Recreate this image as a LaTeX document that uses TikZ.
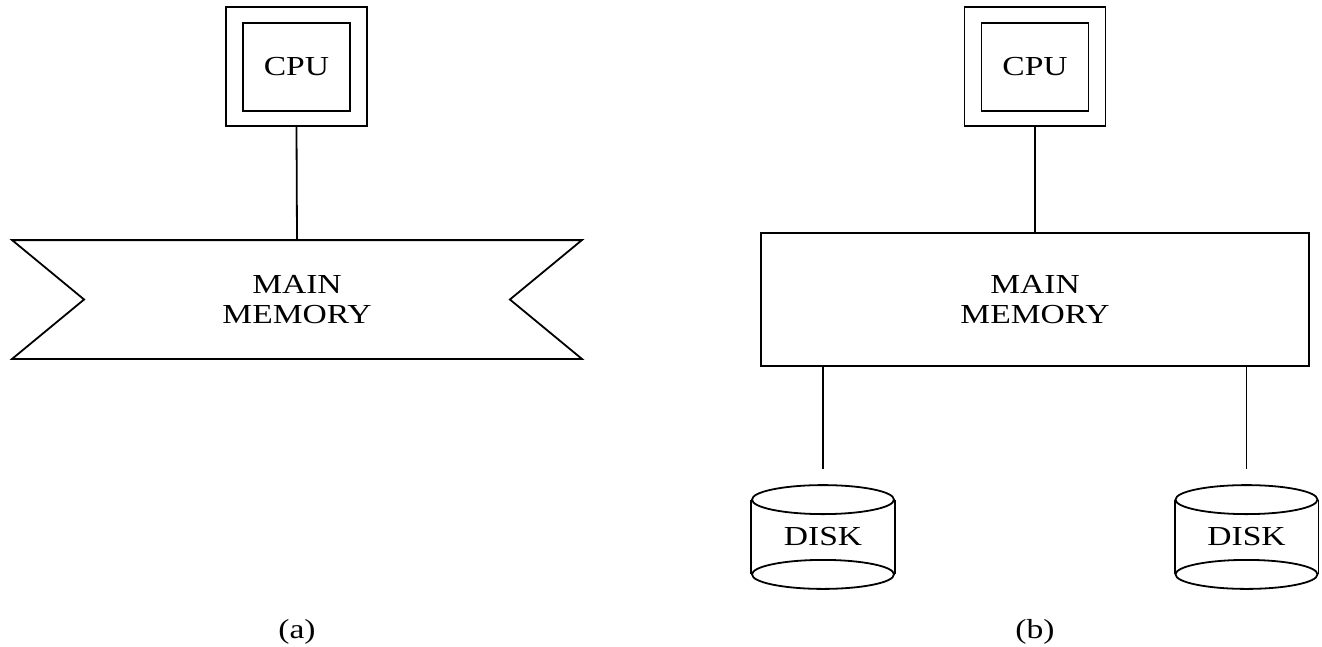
\documentclass[tikz,border=0pt]{standalone}
\usepackage{fontspec}
\setmainfont{Liberation Serif}[FakeStretch=1.22]
\usetikzlibrary{calc}

\begin{document}
\begin{tikzpicture}[x=1pt, y=-1pt, line width=1.8pt,
  lbl/.style={font=\fontsize{27.5}{30}\selectfont, align=center, inner sep=0pt},
  box/.style={draw, line width=1.8pt, inner sep=0pt},
  cpuouter/.style={box, minimum width=141pt, minimum height=119pt},
  cpuinner/.style={box, lbl, minimum width=107pt, minimum height=88pt},
  diskbody/.style={lbl, minimum width=142pt, minimum height=102pt},
  wire/.style={line width=1.8pt}]
\useasboundingbox (0,0) rectangle (1322,646);

% ---------------- (a): CPU on a main memory banner ----------------
\node[cpuouter] (cpuAo) at (296.5,66.5) {};
\node[cpuinner] (cpuAi) at (296.5,67) {CPU};
\node[lbl, minimum width=568pt, minimum height=117pt] (memA) at (297,299.5) {MAIN\\MEMORY};
\draw (memA.north west) -- (memA.north east) -- ($(memA.east)+(-72,0)$)
      -- (memA.south east) -- (memA.south west) -- ($(memA.west)+(72,0)$) -- cycle;
\draw[wire] (cpuAo.south) -- (memA.north);
\node[lbl, anchor=base] (capA) at (297,638) {(a)};

% ---------------- (b): CPU, main memory and two disks ----------------
\node[cpuouter] (cpuBo) at (1035,66.5) {};
\node[cpuinner] (cpuBi) at (1035,67) {CPU};
\node[box, lbl, minimum width=548pt, minimum height=133pt] (memB) at (1035,299.5) {MAIN\\MEMORY};
\draw[wire] (cpuBo.south) -- (memB.north);

\node[diskbody] (diskL) at (823,537) {DISK};
\node[diskbody] (diskR) at (1246.5,537) {DISK};
\foreach \d in {diskL,diskR}{
  \draw ($(\d.north)+(0,14.5)$) ellipse [x radius=71pt, y radius=14.5pt];
  \draw ($(\d.south)+(0,-14.5)$) ellipse [x radius=71pt, y radius=14.5pt];
  \draw ($(\d.north west)+(0,14.5)$) -- ($(\d.south west)+(0,-14.5)$);
  \draw ($(\d.north east)+(0,14.5)$) -- ($(\d.south east)+(0,-14.5)$);
}
\coordinate (endL) at (823,469);
\coordinate (endR) at (1246.5,469);
\draw[wire] (memB.south -| endL) -- (endL);
\draw[wire] (memB.south -| endR) -- (endR);

\node[lbl, anchor=base] (capB) at (1035,638) {(b)};
\end{tikzpicture}
\end{document}
